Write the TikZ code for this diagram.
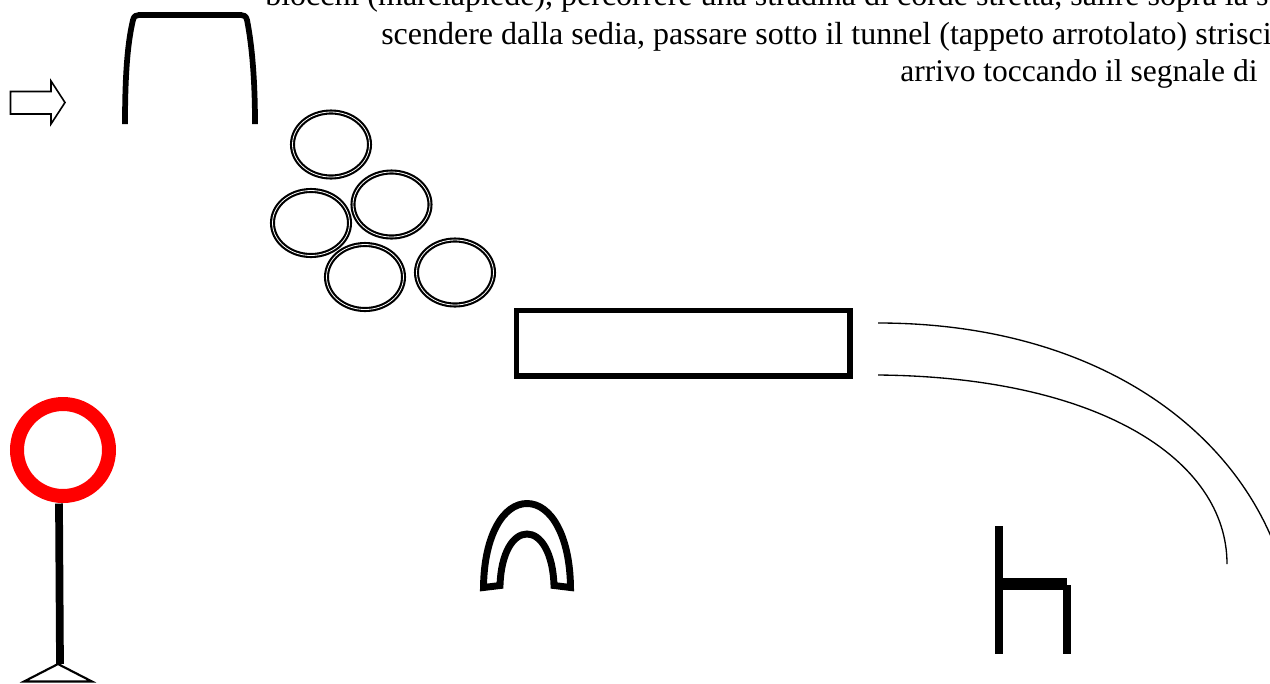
\documentclass[tikz,border=0pt]{standalone}
\usepackage{fontspec}
\setmainfont{Liberation Serif}
\tikzset{
  px/.style={x=0.75pt,y=-0.75pt},
  heavy/.style={draw=black,line width=4.3pt,line join=miter},
  ring/.style={draw=black,line width=1.6pt,double=white,double distance=0.6pt},
  track/.style={draw=black,line width=1pt},
  caption/.style={anchor=base west,inner sep=0pt,font=\fontsize{24}{26}\selectfont}
}
\begin{document}
\begin{tikzpicture}[px]
\useasboundingbox (0,0) rectangle (1270,683);
\clip (0,0) rectangle (1270,683);
\node[caption] (line1) at (265,5.5) {blocchi (marciapiede), percorrere una stradina di corde stretta, salire sopra la sedia,};
\node[caption] (line2) at (381,44) {scendere dalla sedia, passare sotto il tunnel (tappeto arrotolato) strisciando,};
\node[caption,font=\fontsize{23.65}{26}\selectfont] (line3) at (900,81.5) {arrivo toccando il segnale di};
% entry arrow
\draw[black,line width=1.2pt,line join=miter] (10.5,91.5) -- (51,91.5) -- (51,81) -- (65,102.5) -- (51,124) -- (51,114) -- (10.5,114) -- cycle;
% gate
\draw[heavy,line join=round] (125,124) .. controls (125,80) and (127,45) .. (133,20) .. controls (134,16) and (136,15) .. (139,15) -- (241,15) .. controls (244,15) and (246,16) .. (247,20) .. controls (252,45) and (255,80) .. (255,124);
% rings
\foreach \n/\cx/\cy in {a/331/144.5,b/391.5/204.5,c/311/223,d/365/277,e/455/272.5}
  \draw[ring] (\cx,\cy) ellipse [x radius=38.5,y radius=32.5];
% block
\draw[heavy] (516.5,310.5) rectangle (850,376);
% curved lane
\draw[track] (878,323) .. controls (1090,323) and (1235,425) .. (1280,560);
\draw[track] (878,375) .. controls (1100,377) and (1227,460) .. (1227,564);
% finish sign
\draw[red,line width=10.5pt] (63,450) circle [radius=46];
\draw[black,line width=5.8pt] (59,503.5) -- (60,664);
\draw[black,line width=1.6pt,line join=miter] (58,664) -- (24,681.5) -- (92,681.5) -- cycle;
% tunnel
\draw[black,line width=5.2pt,line join=miter] (483.5,587.5) .. controls (484,536) and (503,503.5) .. (527,503.5) .. controls (551,503.5) and (570,536) .. (570.5,587.5) -- (554,585.5) .. controls (553,553) and (541,534) .. (527,534) .. controls (513,534) and (501,553) .. (500,585.5) -- cycle;
% chair
\draw[black,line width=6.2pt] (999,526) -- (999,654);
\draw[black,line width=9pt] (1003,584.3) -- (1067,584.3);
\draw[black,line width=6.2pt] (1067.2,585) -- (1067.2,654);
\end{tikzpicture}
\end{document}
